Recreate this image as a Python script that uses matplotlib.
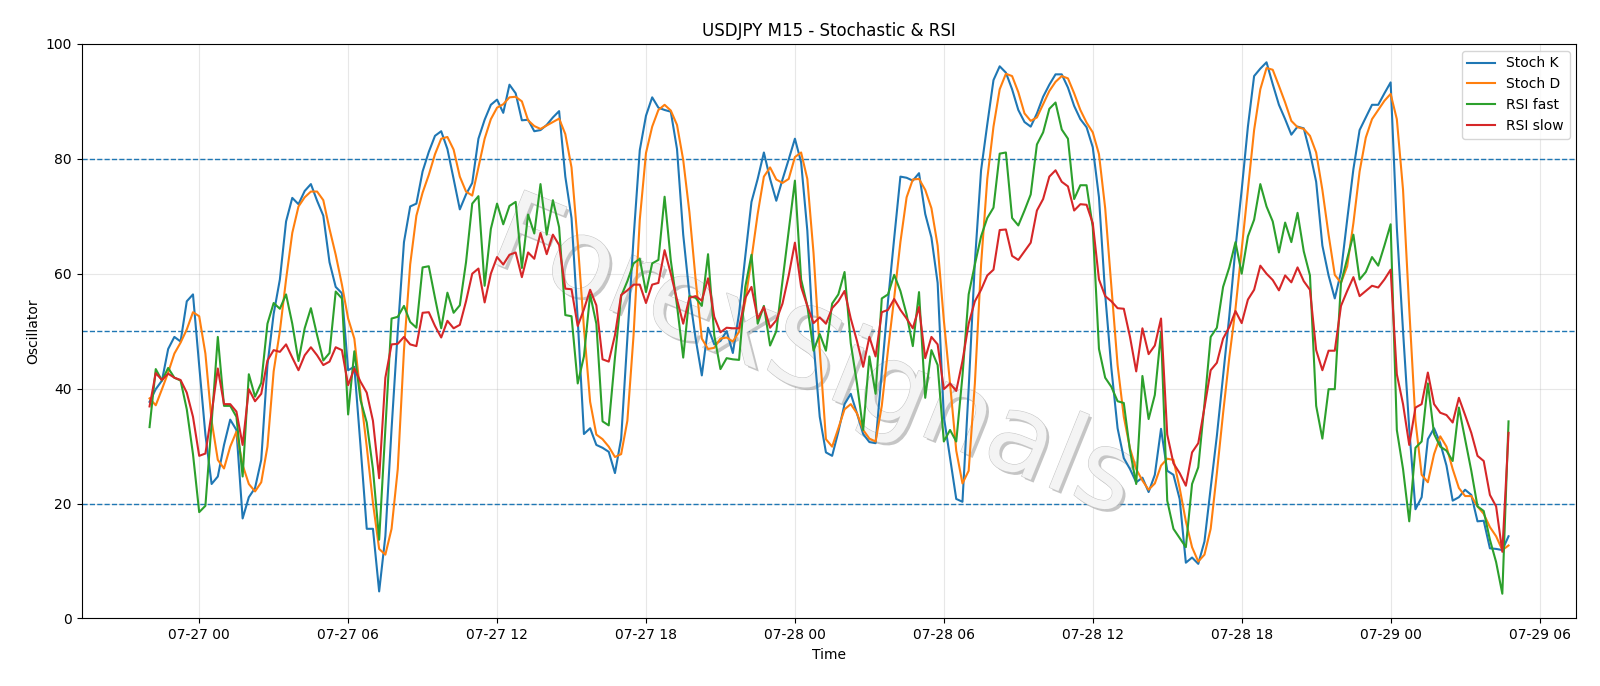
import matplotlib
matplotlib.use("Agg")
import matplotlib.pyplot as plt
import matplotlib.dates as mdates
import matplotlib.patheffects as pe
import pandas as pd

# 15-minute bars, 07-26 22:00 .. 07-29 04:45
start_time = "2025-07-26 22:00"
n_bars = 220

stoch_k = [
    37.7, 39.9, 41.4, 46.9, 49.0, 48.2, 55.2, 56.4, 44.0, 32.0,
    23.4, 24.7, 30.2, 34.6, 32.8, 17.4, 21.1, 22.7, 27.6, 44.1,
    53.0, 59.0, 69.1, 73.2, 72.1, 74.4, 75.6, 72.7, 70.1, 62.0,
    57.7, 56.6, 43.2, 43.8, 30.0, 15.6, 15.6, 4.7, 14.3, 33.0,
    50.0, 65.5, 71.7, 72.2, 77.8, 81.2, 84.0, 84.8, 81.7, 76.5,
    71.2, 73.8, 75.8, 83.5, 86.8, 89.4, 90.3, 88.0, 92.9, 91.4,
    86.7, 86.8, 84.8, 85.0, 85.9, 87.2, 88.3, 76.9, 69.7, 52.0,
    32.1, 33.1, 30.2, 29.7, 29.0, 25.3, 31.3, 48.7, 66.2, 81.5,
    87.5, 90.7, 88.9, 88.5, 88.2, 81.7, 66.8, 56.4, 48.7, 42.3,
    50.6, 47.7, 48.3, 50.0, 46.2, 53.1, 63.0, 72.5, 76.5, 81.1,
    76.5, 72.7, 76.4, 79.9, 83.5, 79.4, 67.5, 48.0, 35.1, 28.9,
    28.3, 32.5, 37.3, 39.1, 35.7, 32.1, 30.7, 30.5, 42.8, 55.2,
    66.2, 76.9, 76.7, 76.2, 77.5, 70.4, 66.3, 58.4, 35.1, 27.9,
    20.8, 20.3, 40.0, 62.0, 78.0, 86.0, 93.7, 96.1, 95.0, 92.1,
    88.5, 86.4, 85.6, 87.9, 90.8, 92.9, 94.7, 94.7, 92.4, 89.2,
    86.9, 85.5, 82.0, 73.3, 56.4, 43.5, 33.1, 27.9, 26.0, 23.7,
    24.5, 22.0, 25.0, 33.0, 25.7, 25.0, 20.8, 9.7, 10.6, 9.5,
    13.4, 22.7, 31.8, 42.2, 52.6, 64.5, 74.6, 85.6, 94.4, 95.7,
    96.8, 93.0, 89.4, 86.9, 84.2, 85.6, 85.3, 81.1, 76.0, 64.9,
    59.7, 55.7, 60.3, 69.4, 78.2, 85.0, 87.2, 89.4, 89.4, 91.4,
    93.3, 68.0, 50.0, 33.0, 19.0, 21.1, 31.2, 33.1, 30.5, 26.6,
    20.5, 21.1, 22.4, 21.5, 16.9, 17.0, 12.2, 12.1, 11.9, 14.3,
]

stoch_d = [
    38.3, 37.1, 39.9, 42.8, 46.1, 48.0, 50.3, 53.3, 52.6, 46.1,
    34.4, 27.6, 26.1, 29.9, 32.5, 26.7, 23.4, 22.1, 23.7, 29.9,
    43.0, 50.0, 59.0, 67.1, 71.7, 73.3, 74.3, 74.3, 72.8, 67.8,
    63.3, 58.1, 52.2, 48.7, 39.0, 29.9, 20.1, 12.1, 11.1, 15.6,
    26.0, 46.7, 61.6, 70.1, 74.1, 77.2, 80.8, 83.5, 83.8, 81.6,
    76.9, 74.3, 73.6, 78.5, 83.5, 86.9, 88.9, 89.5, 90.7, 90.8,
    90.0, 86.7, 85.7, 85.2, 85.8, 86.4, 87.0, 84.3, 78.5, 65.5,
    50.6, 37.7, 32.0, 31.2, 29.9, 28.1, 28.6, 34.4, 49.3, 69.4,
    81.0, 85.6, 88.5, 89.4, 88.4, 85.9, 79.8, 70.7, 59.0, 48.7,
    46.9, 47.1, 48.7, 48.9, 48.2, 49.9, 55.2, 62.6, 70.4, 76.9,
    78.5, 76.4, 75.8, 76.5, 80.3, 81.1, 76.5, 63.6, 46.7, 31.2,
    29.9, 33.1, 36.4, 37.3, 35.7, 32.8, 31.3, 30.8, 37.0, 46.7,
    55.8, 65.5, 73.3, 76.4, 76.5, 74.6, 71.4, 64.9, 51.9, 40.9,
    29.2, 23.5, 25.7, 40.9, 61.6, 76.5, 85.6, 92.1, 94.8, 94.4,
    91.6, 87.9, 86.6, 87.2, 89.5, 91.8, 93.4, 94.4, 94.0, 91.4,
    88.5, 86.3, 84.6, 80.8, 71.4, 57.7, 44.1, 35.1, 29.6, 26.0,
    24.0, 22.4, 23.5, 26.6, 27.8, 27.6, 22.7, 16.9, 12.4, 9.9,
    11.1, 15.6, 25.3, 35.7, 45.4, 53.9, 64.2, 74.6, 85.0, 92.1,
    95.8, 95.5, 92.7, 89.8, 86.6, 85.5, 85.2, 84.0, 81.1, 74.6,
    66.8, 59.8, 58.4, 61.3, 68.8, 77.8, 83.7, 86.9, 88.5, 90.1,
    91.3, 86.9, 74.6, 53.9, 34.4, 25.0, 23.7, 28.6, 31.7, 29.9,
    26.0, 22.7, 21.3, 21.3, 19.5, 18.2, 15.9, 14.3, 11.9, 12.7,
]

rsi_fast = [
    33.3, 43.4, 41.4, 43.6, 41.9, 41.4, 36.4, 28.6, 18.5, 19.6,
    34.0, 49.0, 37.0, 37.0, 35.1, 24.7, 42.5, 38.6, 41.0, 51.3,
    54.9, 53.9, 56.4, 51.3, 44.8, 50.5, 54.0, 49.3, 44.9, 46.2,
    56.9, 55.7, 35.5, 46.5, 38.0, 34.1, 26.0, 13.7, 33.1, 52.2,
    52.5, 54.4, 51.6, 50.6, 61.1, 61.3, 55.8, 50.5, 56.7, 53.2,
    54.5, 62.0, 72.2, 73.5, 57.9, 67.8, 72.2, 68.6, 71.8, 72.5,
    61.0, 70.3, 67.0, 75.6, 66.8, 72.8, 68.1, 52.8, 52.6, 40.9,
    45.6, 56.4, 51.3, 34.3, 33.6, 45.4, 56.1, 58.7, 61.8, 62.6,
    56.8, 61.8, 62.4, 73.4, 62.3, 54.5, 45.4, 56.1, 55.8, 54.4,
    63.4, 49.3, 43.4, 45.3, 45.1, 45.0, 57.7, 63.3, 51.3, 54.4,
    47.5, 50.0, 58.7, 67.5, 76.2, 59.0, 54.4, 46.6, 49.5, 46.6,
    54.8, 56.4, 60.3, 47.9, 40.9, 32.8, 45.6, 39.1, 55.7, 56.4,
    59.8, 57.0, 52.9, 47.4, 56.8, 38.4, 46.7, 44.1, 30.8, 32.8,
    30.8, 42.2, 56.4, 61.6, 66.5, 69.7, 71.5, 80.9, 81.1, 69.7,
    68.4, 71.0, 73.8, 82.5, 84.6, 88.7, 89.8, 85.1, 83.5, 73.0,
    75.4, 75.4, 68.1, 46.9, 41.9, 40.3, 37.8, 37.5, 29.2, 23.4,
    42.2, 34.7, 38.9, 49.8, 20.5, 15.6, 14.0, 12.4, 23.4, 26.3,
    37.3, 49.0, 50.6, 57.7, 61.1, 65.5, 60.0, 66.5, 69.4, 75.6,
    71.7, 69.1, 63.7, 68.9, 65.5, 70.6, 63.9, 59.7, 37.0, 31.3,
    39.9, 39.9, 58.4, 62.6, 66.8, 59.0, 60.3, 62.9, 61.4, 64.9,
    68.6, 32.8, 26.0, 16.9, 29.7, 30.8, 40.9, 32.1, 29.9, 29.2,
    27.4, 36.7, 31.2, 25.7, 19.5, 18.7, 13.7, 9.8, 4.3, 34.3,
]

rsi_slow = [
    36.9, 42.7, 41.5, 42.6, 41.9, 41.5, 39.3, 35.1, 28.3, 28.7,
    35.7, 43.5, 37.3, 37.3, 36.0, 30.2, 39.9, 37.8, 39.1, 44.9,
    46.7, 46.4, 47.7, 45.4, 43.2, 45.8, 47.2, 45.8, 44.1, 44.7,
    47.2, 46.7, 40.6, 43.5, 41.2, 39.3, 34.4, 24.4, 41.9, 47.7,
    47.8, 49.0, 47.7, 47.4, 53.2, 53.3, 50.9, 48.9, 51.8, 50.5,
    51.1, 55.2, 60.0, 60.9, 55.0, 60.0, 62.9, 61.6, 63.3, 63.7,
    59.4, 63.7, 62.6, 67.1, 63.4, 66.8, 65.0, 57.4, 57.3, 50.9,
    53.8, 57.2, 54.5, 45.1, 44.7, 49.3, 56.3, 57.1, 58.1, 58.1,
    54.9, 58.1, 58.4, 64.1, 60.0, 55.5, 51.3, 55.8, 56.1, 55.3,
    59.2, 52.5, 49.8, 50.6, 50.5, 50.5, 55.8, 57.7, 52.2, 54.2,
    50.6, 51.9, 54.8, 59.7, 65.4, 57.7, 54.4, 51.4, 52.4, 51.3,
    54.0, 55.2, 57.0, 52.2, 48.3, 43.8, 49.0, 45.6, 53.3, 53.7,
    55.6, 53.7, 52.2, 50.5, 54.2, 45.3, 49.0, 47.7, 39.9, 40.9,
    39.6, 44.8, 51.3, 55.2, 57.2, 59.7, 60.7, 67.6, 67.7, 63.1,
    62.4, 63.9, 65.4, 71.0, 73.0, 76.9, 78.0, 76.0, 75.2, 71.0,
    72.1, 72.0, 68.8, 59.0, 56.1, 55.2, 54.0, 53.9, 49.0, 43.0,
    50.5, 46.0, 47.5, 52.2, 32.0, 27.0, 25.3, 23.1, 28.9, 30.5,
    36.7, 43.2, 44.5, 48.7, 50.7, 53.5, 51.4, 55.5, 57.2, 61.4,
    60.0, 58.9, 57.1, 59.7, 58.5, 61.1, 58.7, 57.2, 46.7, 43.2,
    46.6, 46.6, 54.4, 57.0, 59.4, 56.1, 57.0, 57.9, 57.6, 59.0,
    60.7, 42.5, 37.3, 30.2, 36.7, 37.3, 42.8, 37.3, 35.8, 35.4,
    34.1, 38.4, 35.4, 32.3, 28.3, 27.4, 21.5, 19.5, 11.6, 32.3,
]

levels = [80, 50, 20]

times = pd.date_range(start_time, periods=n_bars, freq="15min")

fig, ax = plt.subplots(figsize=(16, 6.86), dpi=100)
fig.subplots_adjust(left=0.051, right=0.9853, top=0.936, bottom=0.0985)

ax.plot(times, stoch_k, label="Stoch K", linewidth=1.5, zorder=3)
ax.plot(times, stoch_d, label="Stoch D", linewidth=1.5, zorder=3)
ax.plot(times, rsi_fast, label="RSI fast", linewidth=1.5, zorder=3)
ax.plot(times, rsi_slow, label="RSI slow", linewidth=1.5, zorder=3)

for lvl in levels:
    ax.axhline(lvl, color="tab:blue", linestyle="--", linewidth=1)

ax.set_ylim(0, 100)
ax.grid(True, alpha=0.3)
ax.xaxis.set_major_locator(mdates.HourLocator(byhour=[0, 6, 12, 18]))
ax.xaxis.set_major_formatter(mdates.DateFormatter("%m-%d %H"))

ax.set_title("USDJPY M15 - Stochastic & RSI", fontsize=12)
ax.set_xlabel("Time")
ax.set_ylabel("Oscillator")
ax.legend(loc="upper right")

# watermark, under the lines
ax.text(0.49, 0.45, "ForexSignals", transform=ax.transAxes, ha="center", va="center",
        rotation=-22, fontsize=78, color="#f4f4f4", zorder=2,
        path_effects=[pe.withSimplePatchShadow(offset=(2, -2), shadow_rgbFace="gray", alpha=0.45),
                      pe.Stroke(linewidth=0.8, foreground="#c8c8c8"), pe.Normal()])

plt.savefig("out.png")
